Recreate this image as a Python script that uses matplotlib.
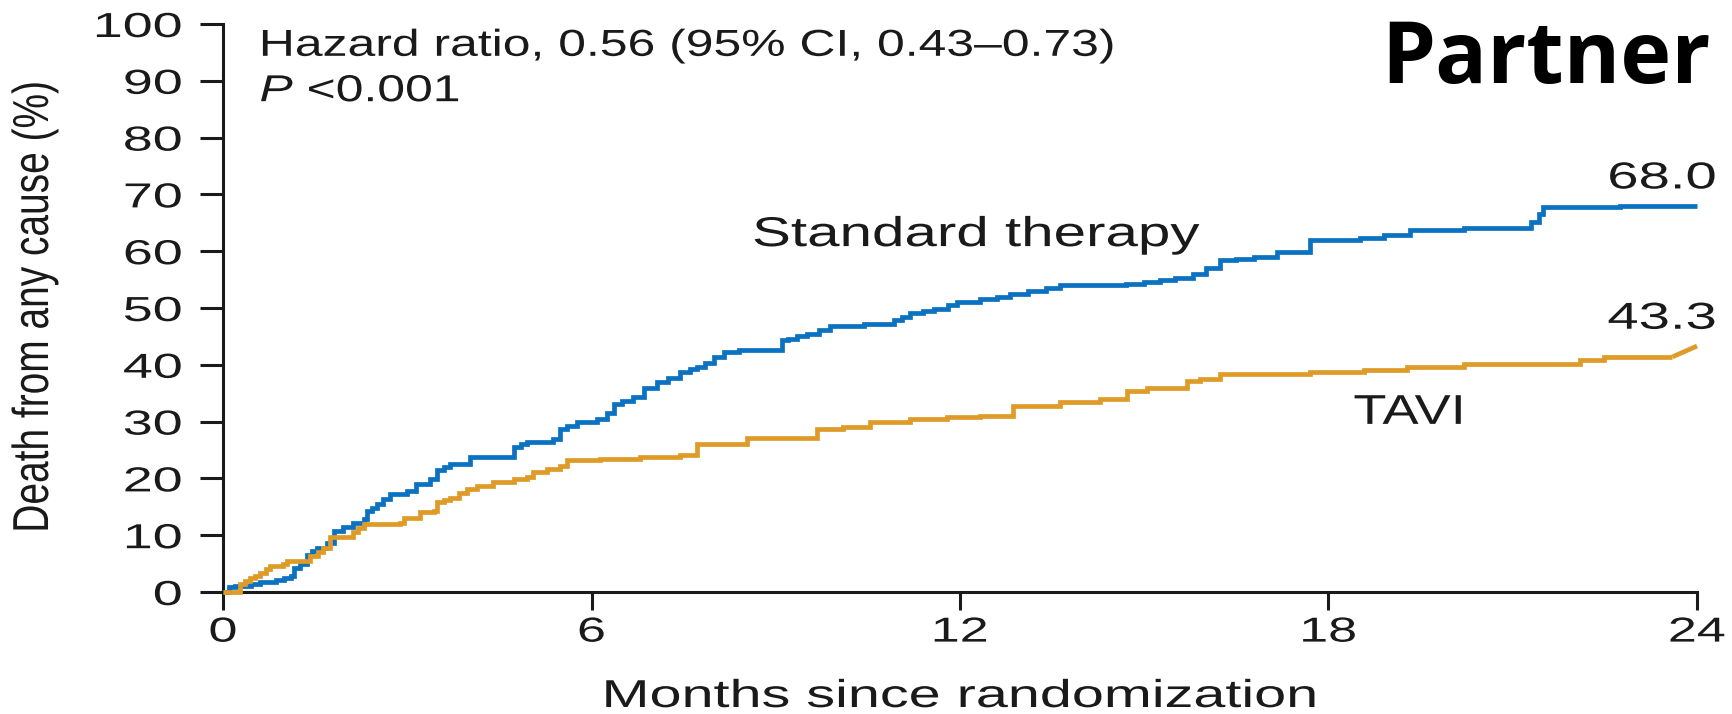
import matplotlib
matplotlib.use("Agg")
import matplotlib.pyplot as plt
from matplotlib.patheffects import AbstractPathEffect
from matplotlib.transforms import Affine2D

# Kaplan-Meier style cumulative mortality, months since randomization
std_months = [0, 0.1, 0.2, 0.45, 0.6, 0.87, 1.0, 1.1, 1.15, 1.25, 1.36, 1.45, 1.53, 1.69,
              1.8, 1.96, 2.12, 2.29, 2.34, 2.42, 2.5, 2.6, 2.72, 2.99, 3.15, 3.37, 3.48,
              3.6, 3.7, 4.02, 4.73, 4.85, 4.95, 5.38, 5.49, 5.6, 5.76, 5.95, 6.09, 6.25,
              6.36, 6.5, 6.68, 6.85, 7.06, 7.25, 7.44, 7.6, 7.71, 7.85, 7.99, 8.15, 8.4,
              9.1, 9.2, 9.35, 9.51, 9.7, 9.89, 10.43, 10.92, 11.05, 11.19, 11.4, 11.57,
              11.8, 11.95, 12.33, 12.6, 12.82, 13.1, 13.4, 13.63, 14.7, 15.0, 15.26, 15.5,
              15.8, 16.0, 16.24, 16.5, 16.78, 17.16, 17.7, 18.3, 18.52, 18.9, 19.33, 20.2,
              21.3, 21.42, 21.5, 22.75, 24.0]
std_death = [0, 0.8, 1.1, 1.4, 1.7, 2.2, 2.5, 2.8, 4.3, 4.9, 6.6, 7.2, 7.8, 8.7,
             10.8, 11.4, 12.2, 12.8, 14.3, 14.8, 15.5, 16.4, 17.2, 17.7, 19.0, 19.9, 21.4,
             22.0, 22.5, 23.7, 25.5, 26.0, 26.4, 26.9, 28.7, 29.3, 29.9, 30.0, 30.5, 31.5,
             33.1, 33.6, 34.3, 36.0, 36.9, 37.6, 38.7, 39.2, 39.6, 40.4, 41.3, 42.2, 42.6,
             44.3, 44.6, 45.0, 45.4, 46.2, 46.9, 47.2, 47.8, 48.5, 49.1, 49.5, 49.9,
             50.5, 51.0, 51.6, 52.0, 52.5, 53.0, 53.5, 54.0, 54.3, 54.6, 54.9, 55.3,
             56.0, 57.0, 58.4, 58.7, 59.0, 59.8, 61.9, 62.0, 62.4, 62.8, 63.7, 64.1,
             65.2, 66.5, 67.8, 68.0, 68.0]

tavi_months = [0, 0.28, 0.36, 0.44, 0.52, 0.6, 0.7, 0.77, 0.98, 1.04, 1.42, 1.55, 1.63,
               1.74, 1.96, 2.12, 2.2, 2.29, 2.88, 2.94, 3.21, 3.43, 3.48, 3.6, 3.7, 3.85,
               3.97, 4.13, 4.4, 4.73, 4.95, 5.05, 5.27, 5.49, 5.6, 6.14, 6.79, 7.44, 7.71,
               8.53, 9.67, 10.1, 10.54, 11.19, 11.79, 12.33, 12.87, 13.63, 14.28, 14.72,
               15.04, 15.69, 15.9, 16.24, 17.7, 18.57, 19.28, 20.2, 22.1, 22.48, 23.6, 24.0]
tavi_death = [0, 1.4, 1.9, 2.5, 2.9, 3.4, 4.0, 4.6, 4.9, 5.5, 6.4, 7.1, 7.8,
              9.6, 9.7, 10.5, 11.2, 11.9, 12.1, 13.0, 14.0, 14.3, 15.8, 16.2, 16.6, 17.4,
              18.1, 18.7, 19.3, 19.9, 20.2, 21.1, 21.6, 22.2, 23.2, 23.4, 23.8, 24.2, 26.0,
              27.1, 28.7, 29.0, 30.0, 30.5, 30.8, 31.0, 32.8, 33.4, 33.9, 35.4,
              36.0, 37.2, 37.5, 38.4, 38.7, 39.0, 39.6, 40.2, 40.9, 41.4, 41.4, 43.3]

x_ticks = [0, 6, 12, 18, 24]
y_ticks = list(range(0, 101, 10))

BLUE = "#0a72c1"
GOLD = "#de9b28"
INK = "#1a1a1a"
SANS = "Liberation Sans"

plt.rcParams["mathtext.fontset"] = "custom"
plt.rcParams["mathtext.rm"] = "Liberation Sans"
plt.rcParams["mathtext.it"] = "Liberation Sans:italic"


class WideText(AbstractPathEffect):
    """Draw glyphs widened horizontally, keeping one ink edge (or the centre) fixed."""

    def __init__(self, sx, anchor="center"):
        super().__init__()
        self.sx = sx
        self.anchor = anchor

    def draw_path(self, renderer, gc, tpath, affine, rgbFace=None):
        ext = tpath.get_extents(affine)
        if self.anchor == "left":
            x0 = ext.x0
        elif self.anchor == "right":
            x0 = ext.x1
        else:
            x0 = 0.5 * (ext.x0 + ext.x1)
        wide = affine + Affine2D().translate(-x0, 0).scale(self.sx, 1).translate(x0, 0)
        renderer.draw_path(gc, tpath, wide, rgbFace)


W, H = 1733, 714
fig = plt.figure(figsize=(W / 100, H / 100), dpi=100)
ax = fig.add_axes([223 / W, (H - 592) / H, (1697 - 223) / W, (592 - 24) / H])

line_kw = dict(lw=3.4, solid_joinstyle="miter", solid_capstyle="butt",
               clip_on=False, zorder=3)
ax.plot(std_months, std_death, drawstyle="steps-post", color=BLUE, **line_kw)
# TAVI: stepped up to the last event, then a straight run to the 24-month estimate
ax.plot(tavi_months[:-1], tavi_death[:-1], drawstyle="steps-post", color=GOLD, **line_kw)
ax.plot(tavi_months[-2:], tavi_death[-2:], color=GOLD, **line_kw)

ax.set_xlim(0, 24)
ax.set_ylim(0, 100)
ax.set_xticks(x_ticks)
ax.set_yticks(y_ticks)
xlabels = ax.set_xticklabels([str(t) for t in x_ticks], fontfamily=SANS,
                             fontsize=25, color=INK)
ylabels = ax.set_yticklabels([str(t) for t in y_ticks], fontfamily=SANS,
                             fontsize=25, color=INK)
for lab in xlabels:
    lab.set_path_effects([WideText(1.5, "center")])
for lab in ylabels:
    lab.set_path_effects([WideText(1.55, "right")])

for side in ("top", "right"):
    ax.spines[side].set_visible(False)
for side in ("left", "bottom"):
    ax.spines[side].set_linewidth(2.2)
    ax.spines[side].set_color(INK)
ax.tick_params(axis="y", length=16.5, width=2.2, pad=13, color=INK)
ax.tick_params(axis="x", length=13, width=2.2, pad=4, color=INK)

fig.text(960 / W, (H - 707) / H, "Months since randomization", fontfamily=SANS,
         fontsize=28, color=INK, ha="center", va="baseline",
         path_effects=[WideText(1.48, "center")])
fig.text(35 / W, (H - 307) / H, "Death from any cause (%)", rotation=90,
         ha="center", va="center", fontfamily=SANS, fontsize=28, color=INK,
         path_effects=[WideText(1.3, "center")])

ax.text(0.6, 94.4, "Hazard ratio, 0.56 (95% CI, 0.43\u20130.73)", fontfamily=SANS,
        fontsize=27, color=INK, ha="left", va="baseline",
        path_effects=[WideText(1.33, "left")])
ax.text(0.6, 86.4, r"$P$ <0.001", fontfamily=SANS,
        fontsize=27, color=INK, ha="left", va="baseline",
        path_effects=[WideText(1.33, "left")])

ax.text(12.26, 60.9, "Standard therapy", fontfamily=SANS, fontsize=30, color=INK,
        ha="center", va="baseline", path_effects=[WideText(1.4, "center")])
ax.text(19.31, 29.6, "TAVI", fontfamily=SANS, fontsize=30, color=INK,
        ha="center", va="baseline", path_effects=[WideText(1.3, "center")])

ax.text(24.31, std_death[-1] + 3.05, f"{std_death[-1]:.1f}", fontfamily=SANS,
        fontsize=27, color=INK, ha="right", va="baseline", clip_on=False,
        path_effects=[WideText(1.5, "right")])
ax.text(24.31, tavi_death[-1] + 3.05, f"{tavi_death[-1]:.1f}", fontfamily=SANS,
        fontsize=27, color=INK, ha="right", va="baseline", clip_on=False,
        path_effects=[WideText(1.5, "right")])

fig.text(1711 / W, (H - 83) / H, "Partner", fontfamily="Open Sans", fontweight="bold",
         fontsize=62, color="black", ha="right", va="baseline")

fig.savefig("out.png", dpi=100, facecolor="white")
